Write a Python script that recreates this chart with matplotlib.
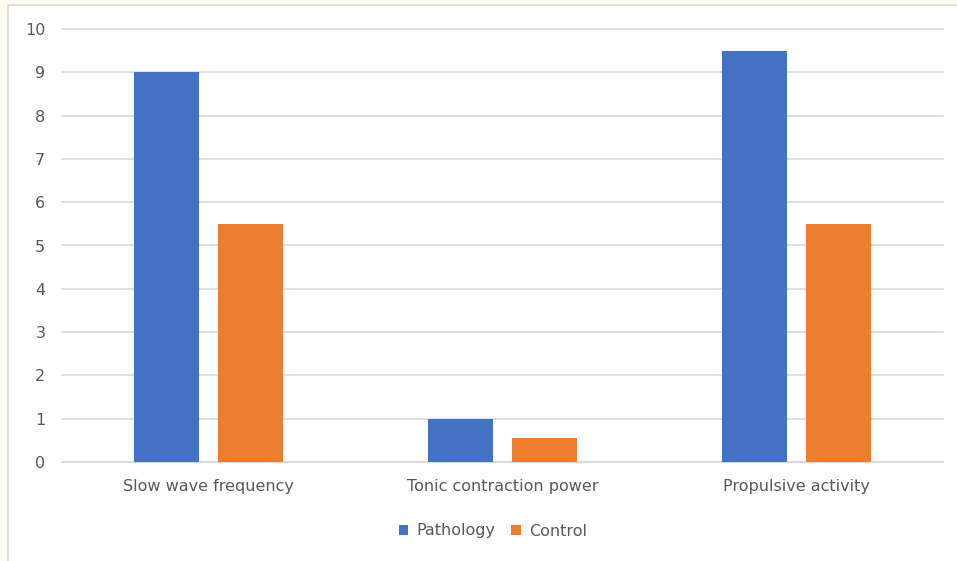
import numpy as np
import matplotlib.pyplot as plt
from matplotlib.patches import Rectangle

categories = ['Slow wave frequency', 'Tonic contraction power', 'Propulsive activity']
pathology = [9, 1, 9.5]
control = [5.5, 0.55, 5.5]

W, H = 957, 561
fig = plt.figure(figsize=(W / 100, H / 100), dpi=100)
fig.patch.set_facecolor('#fffdf0')
fig.patches.append(Rectangle((8 / W, -0.01), 1.0, (H - 5) / H + 0.01,
                             transform=fig.transFigure, facecolor='white',
                             edgecolor='#d9d9d9', linewidth=1.2, zorder=-10))

ax = fig.add_axes([62 / W, (H - 462) / H, (943 - 62) / W, (462 - 29) / H])
ax.set_facecolor('none')

x = np.arange(len(categories))
w = 0.221
gap = 0.065
ax.bar(x - (w + gap) / 2, pathology, w, color='#4472c4', label='Pathology', zorder=3)
ax.bar(x + (w + gap) / 2, control, w, color='#ed7d31', label='Control', zorder=3)

ax.set_xlim(-0.5, 2.5)
ax.set_ylim(0, 10)
ax.set_yticks(range(0, 11))
ax.grid(axis='y', color='#d9d9d9', linewidth=1.2, zorder=0)
for line in ax.get_ygridlines():
    line.set_clip_on(False)
for s in ['top', 'right', 'left']:
    ax.spines[s].set_visible(False)
ax.spines['bottom'].set_color('#d9d9d9')
ax.spines['bottom'].set_linewidth(1.2)
ax.tick_params(length=0, colors='#595959', labelsize=11.5)
ax.tick_params(axis='y', pad=12)
ax.tick_params(axis='x', pad=12)
ax.set_xticks(x)
ax.set_xticklabels(categories)

ax.legend(loc='center', bbox_to_anchor=(0.489, (462 - 531) / (462 - 29)), ncol=2,
          frameon=False, fontsize=11.5, labelcolor='#595959',
          handlelength=0.6, handleheight=0.6, handletextpad=0.5, columnspacing=1.0)

fig.savefig('out.png', dpi=100, facecolor=fig.get_facecolor())
